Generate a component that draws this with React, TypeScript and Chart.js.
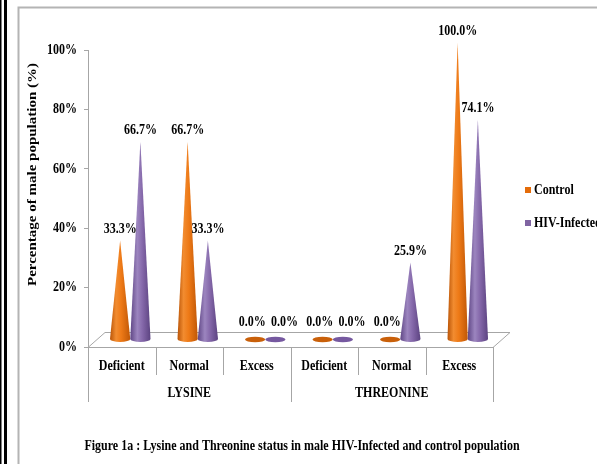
import React, { useEffect, useRef } from "react";
import { Chart, registerables } from "chart.js";

Chart.register(...registerables);

const categories = ["Deficient", "Normal", "Excess", "Deficient", "Normal", "Excess"];
const groups = ["LYSINE", "THREONINE"];
const groupSize = 3;
const seriesNames = ["Control", "HIV-Infected"];
const controlValues = [33.3, 66.7, 0, 0, 0, 100];
const hivValues = [66.7, 33.3, 0, 0, 25.9, 74.1];
const yTicks = [0, 20, 40, 60, 80, 100];
const yTitle = "Percentage of male population (%)";
const caption = "Figure 1a : Lysine and Threonine status in male HIV-Infected and control population";

const W = 597;
const H = 464;
const SX = 0.8; // horizontal text compression
const FONT = '"Liberation Serif", "Times New Roman", serif';
const DEPTH_X = 17;
const DEPTH_Y = 15;
const AXIS_GRAY = "#A6A6A6";

const solidColors = ["#E46C0A", "#8064A2"];
const zeroColors = ["#C9600A", "#7659A0"];
const gradStops: [number, string][][] = [
  [
    [0, "#B95407"],
    [0.3, "#F28C30"],
    [0.55, "#EE7A17"],
    [1, "#C05706"],
  ],
  [
    [0, "#5F4685"],
    [0.35, "#9C85BF"],
    [0.6, "#8568AA"],
    [1, "#5C4381"],
  ],
];

function txt(
  ctx: CanvasRenderingContext2D,
  s: string,
  x: number,
  y: number,
  align: CanvasTextAlign = "center",
  size = 15,
  rotate = 0
) {
  ctx.save();
  ctx.translate(x, y);
  ctx.scale(SX, 1);
  if (rotate) ctx.rotate(rotate);
  ctx.font = `bold ${size}px ${FONT}`;
  ctx.textAlign = align;
  ctx.textBaseline = "middle";
  ctx.fillStyle = "#000";
  ctx.fillText(s, 0, 0);
  ctx.restore();
}

const conePlugin = {
  id: "cones",
  beforeDatasetsDraw(chart: any) {
    const ctx: CanvasRenderingContext2D = chart.ctx;
    const area = chart.chartArea;
    const y0 = chart.scales.y.getPixelForValue(0);
    // floor
    ctx.save();
    ctx.strokeStyle = AXIS_GRAY;
    ctx.lineWidth = 1;
    ctx.fillStyle = "#fff";
    ctx.beginPath();
    ctx.moveTo(area.left, y0 + 0.5);
    ctx.lineTo(area.left + DEPTH_X, y0 - DEPTH_Y + 0.5);
    ctx.lineTo(area.right + DEPTH_X, y0 - DEPTH_Y + 0.5);
    ctx.lineTo(area.right, y0 + 0.5);
    ctx.closePath();
    ctx.fill();
    ctx.stroke();
    ctx.restore();

    const dx = DEPTH_X / 2;
    const dy = -DEPTH_Y / 2;
    const nCat = categories.length;
    for (let i = 0; i < nCat; i++) {
      for (let d = 0; d < chart.data.datasets.length; d++) {
        const meta = chart.getDatasetMeta(d);
        const el = meta.data[i];
        const p = el.getProps(["x", "y", "base", "width"], true);
        const v = chart.data.datasets[d].data[i] as number;
        const cx = p.x + dx;
        const by = p.base + dy;
        const ty = p.y + dy;
        const r = p.width / 2;
        ctx.save();
        if (v <= 0) {
          ctx.fillStyle = zeroColors[d];
          ctx.beginPath();
          ctx.ellipse(cx, by, r, 2.8, 0, 0, Math.PI * 2);
          ctx.fill();
        } else {
          const g = ctx.createLinearGradient(cx - r, 0, cx + r, 0);
          gradStops[d].forEach(([o, c]) => g.addColorStop(o, c));
          ctx.fillStyle = g;
          ctx.beginPath();
          ctx.moveTo(cx, ty);
          ctx.lineTo(cx - r, by);
          ctx.ellipse(cx, by, r, 3, 0, Math.PI, 0, true);
          ctx.closePath();
          ctx.fill();
        }
        ctx.restore();
      }
    }
    // data labels
    for (let i = 0; i < nCat; i++) {
      for (let d = 0; d < chart.data.datasets.length; d++) {
        const el = chart.getDatasetMeta(d).data[i];
        const p = el.getProps(["x", "y", "base"], true);
        const v = chart.data.datasets[d].data[i] as number;
        const label = v.toFixed(1) + "%";
        if (v <= 0) {
          txt(ctx, label, p.x + dx + (d === 0 ? -3 : 9), p.base + dy - 17);
        } else {
          txt(ctx, label, p.x + dx, p.y + dy - 11);
        }
      }
    }
    return false;
  },
  afterDraw(chart: any) {
    const ctx: CanvasRenderingContext2D = chart.ctx;
    const area = chart.chartArea;
    const xs = chart.scales.x;
    const ys = chart.scales.y;
    const y0 = ys.getPixelForValue(0);

    // frame and border
    ctx.save();
    ctx.fillStyle = "#000";
    ctx.fillRect(0, 0, 1.5, H);
    ctx.fillRect(4, 0, 3, H);
    ctx.strokeStyle = "#B4B4B4";
    ctx.lineWidth = 2;
    ctx.beginPath();
    ctx.moveTo(18.5, H);
    ctx.lineTo(18.5, 7.5);
    ctx.lineTo(W, 7.5);
    ctx.stroke();
    ctx.restore();

    // y tick labels
    yTicks.forEach((t) => {
      txt(ctx, t + "%", area.left - 11, ys.getPixelForValue(t), "right");
    });
    // y title
    txt(ctx, yTitle, 33, (area.top + y0) / 2 - 24, "center", 15, -Math.PI / 2);

    // category dividers
    const n = categories.length;
    const step = xs.getPixelForValue(1) - xs.getPixelForValue(0);
    ctx.save();
    ctx.strokeStyle = AXIS_GRAY;
    ctx.lineWidth = 1;
    for (let i = 0; i <= n; i++) {
      const bx = Math.round(xs.getPixelForValue(0) - step / 2 + i * step) + 0.5;
      const isGroup = i % groupSize === 0;
      ctx.beginPath();
      ctx.moveTo(bx, y0);
      ctx.lineTo(bx, y0 + (isGroup ? 55 : 28));
      ctx.stroke();
    }
    ctx.restore();
    categories.forEach((c, i) => {
      txt(ctx, c, xs.getPixelForValue(i), y0 + 19);
    });
    groups.forEach((g, gi) => {
      const a = xs.getPixelForValue(gi * groupSize);
      const b = xs.getPixelForValue(gi * groupSize + groupSize - 1);
      txt(ctx, g, (a + b) / 2, y0 + 46);
    });

    // legend
    seriesNames.forEach((s, i) => {
      const ly = 190 + i * 33;
      ctx.fillStyle = solidColors[i];
      ctx.fillRect(525, ly - 3, 6, 6);
      txt(ctx, s, 534, ly, "left");
    });

    // caption
    txt(ctx, caption, 302, 446, "center", 15);
  },
};

export default function App() {
  const ref = useRef<HTMLCanvasElement>(null);
  useEffect(() => {
    if (!ref.current) return;
    const chart = new Chart(ref.current, {
      type: "bar",
      data: {
        labels: categories,
        datasets: [
          { label: seriesNames[0], data: controlValues, backgroundColor: solidColors[0] },
          { label: seriesNames[1], data: hivValues, backgroundColor: solidColors[1] },
        ],
      },
      options: {
        responsive: false,
        animation: false,
        devicePixelRatio: 1,
        layout: { padding: { left: 18, right: 104, top: 50, bottom: 117 } },
        datasets: { bar: { categoryPercentage: 0.6, barPercentage: 1 } },
        plugins: { legend: { display: false }, tooltip: { enabled: false } },
        scales: {
          x: { display: false, offset: true },
          y: {
            min: 0,
            max: 100,
            ticks: { display: false, stepSize: 20 },
            grid: { drawOnChartArea: false, drawTicks: true, tickLength: 4, color: AXIS_GRAY },
            border: { display: true, color: AXIS_GRAY },
            afterFit: (s: any) => {
              s.width = 70;
            },
          },
        },
      } as any,
      plugins: [conePlugin],
    });
    return () => chart.destroy();
  }, []);
  return (
    <div style={{ position: "fixed", left: 0, top: 0, width: W, height: H, background: "#fff" }}>
      <canvas ref={ref} width={W} height={H} />
    </div>
  );
}
